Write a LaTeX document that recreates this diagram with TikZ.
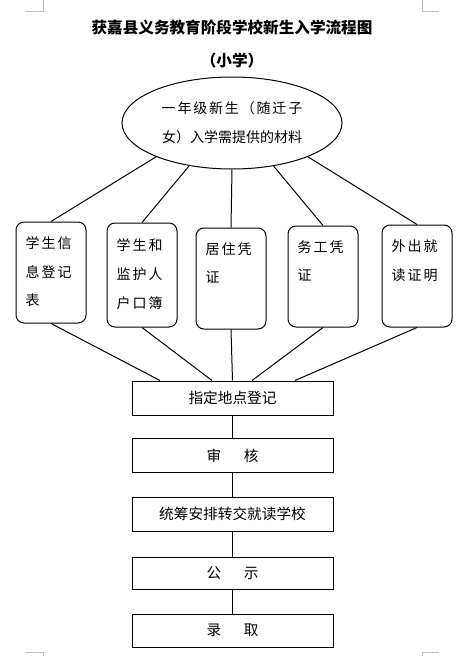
\documentclass[tikz,border=0pt]{standalone}
\usepackage{fontspec}
\setmainfont{Noto Sans CJK SC}
\newfontfamily\widefont[LetterSpace=14]{Noto Sans CJK SC}
\usetikzlibrary{shapes.geometric,calc}
\newcommand{\boxlines}[1]{\parbox[c][54pt][t]{38pt}{\widefont #1}}

\begin{document}
\begin{tikzpicture}[x=0.75pt,y=-0.75pt,line width=0.75pt,
  font=\fontsize{10.5pt}{21.5pt}\selectfont,
  docbox/.style={draw, rounded corners=6pt, minimum width=52.5pt,
    minimum height=75.75pt, inner sep=0pt},
  stepbox/.style={draw, minimum width=150.75pt, minimum height=25.5pt,
    inner sep=0pt, font=\fontsize{11pt}{13pt}\selectfont},
  crop/.style={draw=black!25, line width=0.6pt}]
  \useasboundingbox (0,0) rectangle (466,656);
  % page corners
  \draw[crop] (26,11) -- (43,11) -- (43,0);
  \draw[crop] (439,11) -- (422,11) -- (422,0);
  \draw[crop] (26,652) -- (43,652) -- (43,656);
  \draw[crop] (439,652) -- (422,652) -- (422,656);

  \node (title) at (232,27) {\fontsize{11.7pt}{14pt}\selectfont\bfseries 获嘉县义务教育阶段学校新生入学流程图};
  \node (sub) at (232,61) {\fontsize{11.7pt}{14pt}\selectfont\bfseries （小学）};

  \node[draw, ellipse, minimum width=165pt, minimum height=69pt, inner sep=0pt,
    align=center] (mat) at (232,123)
    {{\fontspec{Noto Sans CJK SC}[LetterSpace=13]一年级新生（随迁子}\\女）入学需提供的材料};

  \node[docbox] (b1) at (51,272.5) {\boxlines{学生信\\息登记\\表}};
  \node[docbox, minimum height=78pt] (b2) at (142,275) {\boxlines{学生和\\监护人\\户口簿}};
  \node[docbox] (b3) at (231,278.5) {\boxlines{居住凭\\证}};
  \node[docbox] (b4) at (323,276.5) {\boxlines{务工凭\\证}};
  \node[docbox, minimum height=76.5pt] (b5) at (417,276) {\boxlines{外出就\\读证明}};

  \node[stepbox] (reg) at (232.5,398) {指定地点登记};
  \node[stepbox] (chk) at (232.5,455.5) {审\hspace{17pt}核};
  \node[stepbox] (plan) at (232.5,514) {统筹安排转交就读学校};
  \node[stepbox, minimum height=24pt] (pub) at (232.5,573) {公\hspace{17pt}示};
  \node[stepbox, minimum height=24.75pt] (adm) at (232.5,630.5) {录\hspace{17pt}取};

  % ellipse to documents
  \draw (mat.204) -- (b1.north);
  \draw (mat.225) -- (b2.north);
  \draw (mat.south) -- (b3.north);
  \draw (mat.314) -- (b4.north);
  \draw (mat.336) -- (b5.north);

  % documents to registration
  \draw (b1.south) -- ($(reg.north)+(-72.5,0)$);
  \draw (b2.south) -- ($(reg.north)+(-20.5,0)$);
  \draw (b3.south) -- ($(reg.north)+(0,0)$);
  \draw (b4.south) -- ($(reg.north)+(19.5,0)$);
  \draw (b5.south) -- ($(reg.north)+(62.5,0)$);

  \draw (reg) -- (chk);
  \draw (chk) -- (plan);
  \draw (plan) -- (pub);
  \draw (pub) -- (adm);
\end{tikzpicture}
\end{document}
